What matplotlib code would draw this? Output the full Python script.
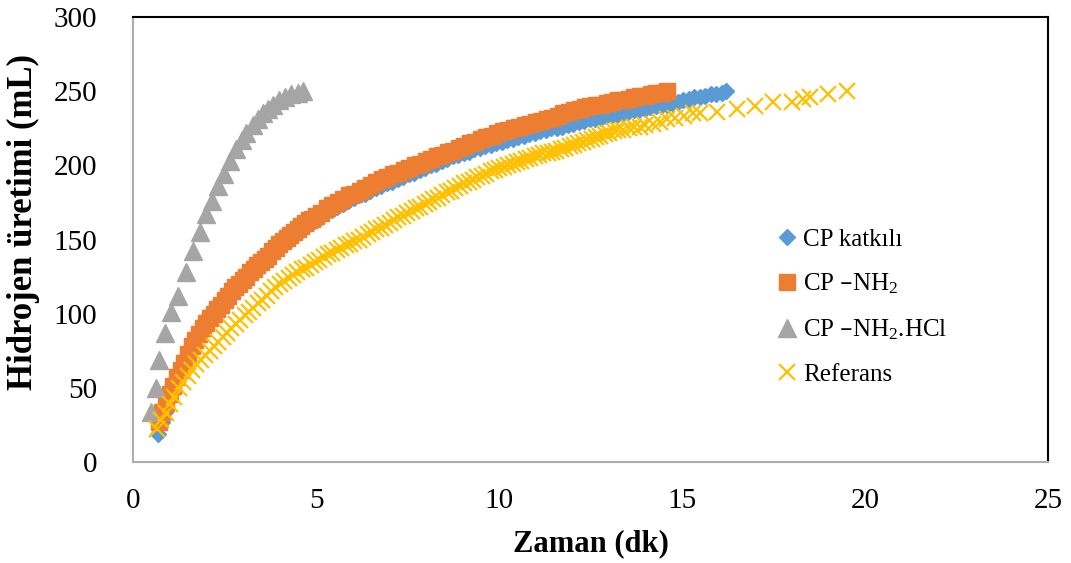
import matplotlib
matplotlib.use("Agg")
import matplotlib.pyplot as plt

# Hydrogen production over time for each catalyst
cp_katkili_t = [0.68, 0.78, 0.88, 0.98, 1.08, 1.18, 1.28, 1.38, 1.48, 1.58, 1.68, 1.78, 1.88,
                1.98, 2.08, 2.18, 2.28, 2.38, 2.48, 2.58, 2.68, 2.78, 2.88, 2.98, 3.08, 3.18,
                3.28, 3.38, 3.48, 3.58, 3.68, 3.78, 3.88, 3.98, 4.08, 4.18, 4.28, 4.38, 4.48,
                4.58, 4.68, 4.78, 4.88, 4.98, 5.13, 5.28, 5.43, 5.58, 5.73, 5.88, 6.03, 6.18,
                6.33, 6.48, 6.63, 6.78, 6.93, 7.08, 7.23, 7.38, 7.53, 7.68, 7.83, 7.98, 8.13,
                8.28, 8.43, 8.58, 8.73, 8.88, 9.03, 9.18, 9.33, 9.48, 9.63, 9.78, 9.93, 10.08,
                10.23, 10.38, 10.53, 10.68, 10.83, 10.98, 11.13, 11.28, 11.43, 11.58, 11.73,
                11.88, 12.03, 12.18, 12.33, 12.48, 12.63, 12.78, 12.93, 13.08, 13.23, 13.38,
                13.53, 13.68, 13.83, 13.98, 14.13, 14.28, 14.43, 14.58, 14.73, 14.88, 15.03,
                15.18, 15.33, 15.48, 15.63, 15.78, 15.93, 16.08, 16.20]
cp_katkili_v = [19, 27, 34, 42, 49, 55, 61, 66, 72, 77, 81, 85, 89,
                93, 96, 99, 102, 105, 108, 111, 114, 116, 119, 121, 124, 126,
                129, 131, 133, 136, 138, 140, 142, 144, 146, 148, 150, 152, 154,
                156, 158, 160, 161, 163, 165, 168, 170, 172, 174, 176, 178, 180,
                181, 183, 185, 186, 188, 189, 191, 192, 194, 195, 197, 198, 200,
                201, 203, 204, 206, 207, 208, 209, 211, 212, 213, 214, 215, 216,
                217, 218, 219, 220, 221, 222, 223, 224, 225, 225, 226,
                227, 228, 229, 230, 231, 231, 232, 233, 234, 234, 235,
                236, 237, 237, 238, 239, 240, 240, 241, 242, 243, 244,
                245, 246, 246, 247, 248, 248, 249, 250]

cp_nh2_t = [0.70, 0.80, 0.90, 1.00, 1.10, 1.20, 1.30, 1.40, 1.50, 1.60, 1.70, 1.80, 1.90,
            2.00, 2.10, 2.20, 2.30, 2.40, 2.50, 2.60, 2.70, 2.80, 2.90, 3.00, 3.10, 3.20,
            3.30, 3.40, 3.50, 3.60, 3.70, 3.80, 3.90, 4.00, 4.10, 4.20, 4.30, 4.40, 4.50,
            4.60, 4.70, 4.80, 4.90, 5.00, 5.15, 5.30, 5.45, 5.60, 5.75, 5.90, 6.05, 6.20,
            6.35, 6.50, 6.65, 6.80, 6.95, 7.10, 7.25, 7.40, 7.55, 7.70, 7.85, 8.00, 8.15,
            8.30, 8.45, 8.60, 8.75, 8.90, 9.05, 9.20, 9.35, 9.50, 9.65, 9.80, 9.95, 10.10,
            10.25, 10.40, 10.55, 10.70, 10.85, 11.00, 11.15, 11.30, 11.45, 11.60, 11.75,
            11.90, 12.05, 12.20, 12.35, 12.50, 12.65, 12.80, 12.95, 13.10, 13.25, 13.40,
            13.55, 13.70, 13.85, 14.00, 14.15, 14.30, 14.45, 14.60]
cp_nh2_v = [27, 34, 40, 46, 51, 57, 62, 67, 73, 78, 82, 86, 90,
            94, 97, 100, 103, 106, 109, 112, 115, 118, 120, 123, 125, 128,
            130, 133, 135, 137, 139, 142, 144, 147, 149, 151, 153, 155, 157,
            159, 161, 163, 164, 166, 168, 171, 173, 175, 177, 180, 181, 183,
            185, 187, 189, 191, 192, 194, 195, 197, 198, 200, 201, 203, 204,
            206, 207, 209, 210, 212, 213, 215, 216, 218, 219, 220, 222, 223,
            224, 225, 226, 227, 228, 229, 230, 231, 232, 233, 235,
            236, 237, 238, 239, 240, 241, 241, 242, 243, 244, 244,
            245, 246, 247, 247, 248, 249, 249, 250]

cp_nh2_hcl_t = [0.50, 0.63, 0.72, 0.87, 1.05, 1.23, 1.45, 1.63, 1.82, 2.00, 2.15, 2.32, 2.48,
                2.65, 2.82, 2.97, 3.10, 3.27, 3.42, 3.56, 3.70, 3.83, 3.98, 4.15, 4.32, 4.50,
                4.65]
cp_nh2_hcl_v = [34, 50, 69, 87, 101, 112, 128, 142, 155, 167, 176, 186, 194,
                203, 211, 217, 222, 227, 231, 235, 238, 241, 244, 246, 248, 249,
                250]

referans_t = [0.65, 0.77, 0.89, 1.01, 1.13, 1.25, 1.37, 1.49, 1.61, 1.73, 1.85, 1.97, 2.09,
              2.21, 2.33, 2.45, 2.57, 2.69, 2.81, 2.93, 3.05, 3.17, 3.29, 3.41, 3.53, 3.65,
              3.77, 3.89, 4.01, 4.13, 4.25, 4.37, 4.49, 4.61, 4.73, 4.85, 4.97, 5.09, 5.21,
              5.33, 5.45, 5.57, 5.69, 5.81, 5.93, 6.05, 6.17, 6.29, 6.41, 6.53, 6.65, 6.77,
              6.89, 7.01, 7.13, 7.25, 7.37, 7.49, 7.61, 7.73, 7.85, 7.97, 8.09, 8.21, 8.33,
              8.45, 8.57, 8.69, 8.81, 8.93, 9.05, 9.17, 9.29, 9.41, 9.53, 9.65, 9.77, 9.89,
              10.01, 10.13, 10.25, 10.37, 10.49, 10.61, 10.73, 10.85, 10.97, 11.09, 11.21,
              11.33, 11.45, 11.57, 11.69, 11.81, 11.93, 12.05, 12.17, 12.29, 12.41, 12.53,
              12.65, 12.77, 12.89, 13.01, 13.13, 13.25, 13.40, 13.55, 13.70, 13.85, 14.00,
              14.20, 14.40, 14.58, 14.80, 15.05, 15.30, 15.50, 15.95, 16.50, 17.00, 17.50,
              18.00, 18.30, 18.50, 19.00, 19.50]
referans_v = [22, 28, 33, 39, 44, 50, 54, 58, 62, 66, 69, 72, 75,
              78, 81, 84, 87, 90, 93, 96, 99, 101, 104, 107, 109, 112,
              115, 118, 120, 122, 124, 126, 128, 130, 131, 133, 135, 136, 138,
              140, 141, 143, 144, 146, 147, 149, 150, 152, 154, 155, 157, 158,
              160, 161, 163, 165, 166, 168, 169, 171, 172, 174, 175, 177, 178,
              180, 182, 183, 185, 186, 188, 189, 190, 192, 193, 194, 196, 197,
              198, 199, 200, 201, 202, 203, 204, 205, 206, 207, 208,
              208, 209, 210, 211, 212, 213, 214, 215, 216, 217, 218,
              219, 220, 221, 222, 223, 224, 224, 225, 226, 226, 227,
              228, 229, 231, 232, 233, 235, 235, 236, 238, 240, 243,
              243, 245, 246, 248, 250]

series_labels = ["CP katkılı", r"CP –NH$_2$", r"CP –NH$_2$.HCl", "Referans"]
x_ticks = [0, 5, 10, 15, 20, 25]
y_ticks = [0, 50, 100, 150, 200, 250, 300]

plt.rcParams["font.family"] = ["Liberation Serif", "DejaVu Serif"]
plt.rcParams["mathtext.default"] = "regular"

fig = plt.figure(figsize=(10.71, 5.63), dpi=100)
ax = fig.add_axes([0.1242, 0.1794, 0.8543, 0.7904])

ax.plot(cp_katkili_t, cp_katkili_v, ls="none", marker="D", ms=8.0,
        color="#5B9BD5", mec="#5B9BD5", label=series_labels[0], zorder=3)
ax.plot(cp_nh2_t, cp_nh2_v, ls="none", marker="s", ms=12.0,
        color="#ED7D31", mec="#ED7D31", label=series_labels[1], zorder=4)
ax.plot(cp_nh2_hcl_t, cp_nh2_hcl_v, ls="none", marker="^", ms=12.5,
        color="#A5A5A5", mec="#A5A5A5", label=series_labels[2], zorder=5)
ax.plot(referans_t, referans_v, ls="none", marker="x", ms=11.5, mew=1.6,
        color="#FFC000", label=series_labels[3], zorder=6)

ax.set_xlim(0, 25)
ax.set_ylim(0, 300)
ax.set_xticks(x_ticks)
ax.set_yticks(y_ticks)
ax.tick_params(axis="both", length=0, labelsize=21)
ax.tick_params(axis="x", pad=19)
ax.tick_params(axis="y", pad=26)

for side in ("top", "right"):
    ax.spines[side].set_color("black")
    ax.spines[side].set_linewidth(1.5)
for side in ("left", "bottom"):
    ax.spines[side].set_color("#ADADAD")
    ax.spines[side].set_linewidth(1.5)

ax.set_xlabel("Zaman (dk)", fontsize=22, fontweight="bold")
ax.set_ylabel("Hidrojen üretimi (mL)", fontsize=25, fontweight="bold")
ax.xaxis.set_label_coords(0.5, -0.15)
ax.yaxis.set_label_coords(-0.102, 0.54)

leg = ax.legend(loc="upper left", bbox_to_anchor=(0.682, 0.565), frameon=False,
                fontsize=18, handletextpad=0.15, labelspacing=0.85,
                handlelength=1.0, borderpad=0.2)

fig.savefig("out.png", dpi=100, facecolor="white")
